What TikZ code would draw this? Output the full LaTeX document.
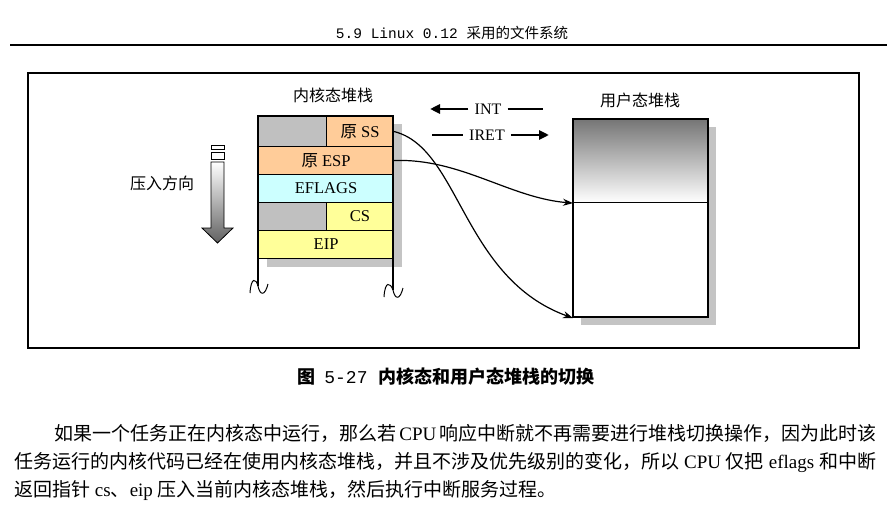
\documentclass[tikz,border=0pt]{standalone}
\usepackage{fontspec}
\setmainfont{Liberation Serif}
\setmonofont{Liberation Mono}
\newfontfamily\cjk{Noto Sans CJK SC}
\usetikzlibrary{arrows.meta}
\definecolor{slotgray}{HTML}{C0C0C0}
\definecolor{peach}{HTML}{FFCC99}
\definecolor{icecyan}{HTML}{CCFFFF}
\definecolor{paleyellow}{HTML}{FFFF99}
\definecolor{shadowgray}{HTML}{C4C4C4}
\definecolor{topgray}{HTML}{767676}
\XeTeXlinebreaklocale "zh"
\XeTeXlinebreakskip=0pt plus 3pt
\tikzset{
  cell/.style={draw=black, line width=1.1pt, inner sep=0pt, anchor=north west,
    font=\fontsize{16.5}{16.5}\selectfont},
  stacklabel/.style={inner sep=0pt, font=\fontsize{16}{16}\selectfont\cjk},
  conn/.style={line width=1.2pt, -{Stealth[length=10pt,width=7pt]}},
  modebar/.style={line width=2.6pt},
  modetip/.style={line width=2.6pt, -{Triangle[length=10pt,width=9pt]}},
  modelabel/.style={inner sep=6pt, font=\fontsize{16}{16}\selectfont},
  bodyline/.style={inner sep=0pt, anchor=west, font=\fontsize{19}{19}\selectfont},
}
\begin{document}
\begin{tikzpicture}[x=1pt, y=-1pt]
\useasboundingbox (0,0) rectangle (887,519);

% running head
\node[inner sep=0pt, font=\fontsize{14.5}{15}\selectfont\ttfamily] (head) at (452,33)
  {5.9 Linux 0.12 {\cjk 采用的文件系统}};
\draw[line width=2.4pt] (10,45) -- (887,45);

% figure frame
\draw[line width=1.6pt] (28,73) rectangle (859,348);

% ---- kernel stack ----
\node[stacklabel] (klabel) at (333,95) {内核态堆栈};
\fill[shadowgray] (267,124) rectangle (402,267);
\node[cell, fill=slotgray, minimum width=68pt, minimum height=30pt] (pad1) at (258,116) {};
\node[cell, fill=peach, minimum width=67pt, minimum height=30pt] (ss) at (326,116) {{\cjk 原} SS};
\node[cell, fill=peach, minimum width=135pt, minimum height=28pt] (esp) at (258,146) {{\cjk 原} ESP};
\node[cell, fill=icecyan, minimum width=135pt, minimum height=28pt] (eflags) at (258,174) {EFLAGS};
\node[cell, fill=slotgray, minimum width=68pt, minimum height=28pt] (pad2) at (258,202) {};
\node[cell, fill=paleyellow, minimum width=67pt, minimum height=28pt] (cs) at (326,202) {CS};
\node[cell, fill=paleyellow, minimum width=135pt, minimum height=28pt] (eip) at (258,230) {EIP};
\draw[line width=2pt] (258,286) -- (258,116) -- (393,116) -- (393,290);
% torn ends of the open stack
\draw[line width=1pt] (250,293) .. controls (251,277) and (256,278) .. (258,286)
  .. controls (260,296) and (265,296) .. (268,284);
\draw[line width=1pt] (384,297) .. controls (385,281) and (390,282) .. (393,290)
  .. controls (395,300) and (400,300) .. (403,288);

% push direction
\node[stacklabel] (pushlabel) at (162,183) {压入方向};
\draw[line width=0.8pt, fill=white] (211,145) rectangle (224,149);
\draw[line width=0.8pt, fill=white] (211,152) rectangle (224,159);
\shade[top color=white, bottom color=black!62, draw=black, line width=0.8pt]
  (211,162) -- (224,162) -- (224,228) -- (233,228) -- (217.5,243) -- (202,228) -- (211,228) -- cycle;

% ---- INT / IRET ----
\node[modelabel] (int) at (488,109) {INT};
\node[modelabel] (iret) at (487,135) {IRET};
\coordinate (intTip) at (430,109);
\coordinate (intEnd) at (543,109);
\coordinate (iretStart) at (432,135);
\coordinate (iretTip) at (549,135);
\draw[modetip] (int.west) -- (intTip);
\draw[modebar] (int.east) -- (intEnd);
\draw[modebar] (iretStart) -- (iret.west);
\draw[modetip] (iret.east) -- (iretTip);

% ---- user stack ----
\node[stacklabel] (ulabel) at (640,100) {用户态堆栈};
\fill[shadowgray] (581,127) rectangle (716,325);
\node[cell, top color=topgray, bottom color=white, minimum width=135pt, minimum height=83pt] (utop) at (573,119) {};
\node[cell, fill=white, minimum width=135pt, minimum height=115pt] (ubot) at (573,202) {};
\draw[line width=2pt] (573,119) rectangle (708,317);

% saved SS:ESP point into the user stack
\draw[conn] (ss.east) .. controls (460,148) and (462,278) .. (ubot.south west);
\draw[conn] (esp.east) .. controls (460,158) and (510,198) .. (utop.south west);

% caption
\node[inner sep=0pt, font=\fontsize{18}{18}\selectfont] (caption) at (446,377)
  {{\cjk\bfseries 图}\hspace{9pt}\texttt{5-27}\hspace{11pt}{\cjk\bfseries 内核态和用户态堆栈的切换}};

% body text
\node[bodyline] (p1) at (54,433) {\hbox to 822pt{{\cjk 如果一个任务正在内核态中运行，那么若} CPU {\cjk 响应中断就不再需要进行堆栈切换操作，因为此时该}}};
\node[bodyline] (p2) at (14,462) {\hbox to 862pt{{\cjk 任务运行的内核代码已经在使用内核态堆栈，并且不涉及优先级别的变化，所以} CPU {\cjk 仅把} eflags {\cjk 和中断}}};
\node[bodyline] (p3) at (14,490) {{\cjk 返回指针} cs{\cjk 、}eip {\cjk 压入当前内核态堆栈，然后执行中断服务过程。}};
\end{tikzpicture}
\end{document}
